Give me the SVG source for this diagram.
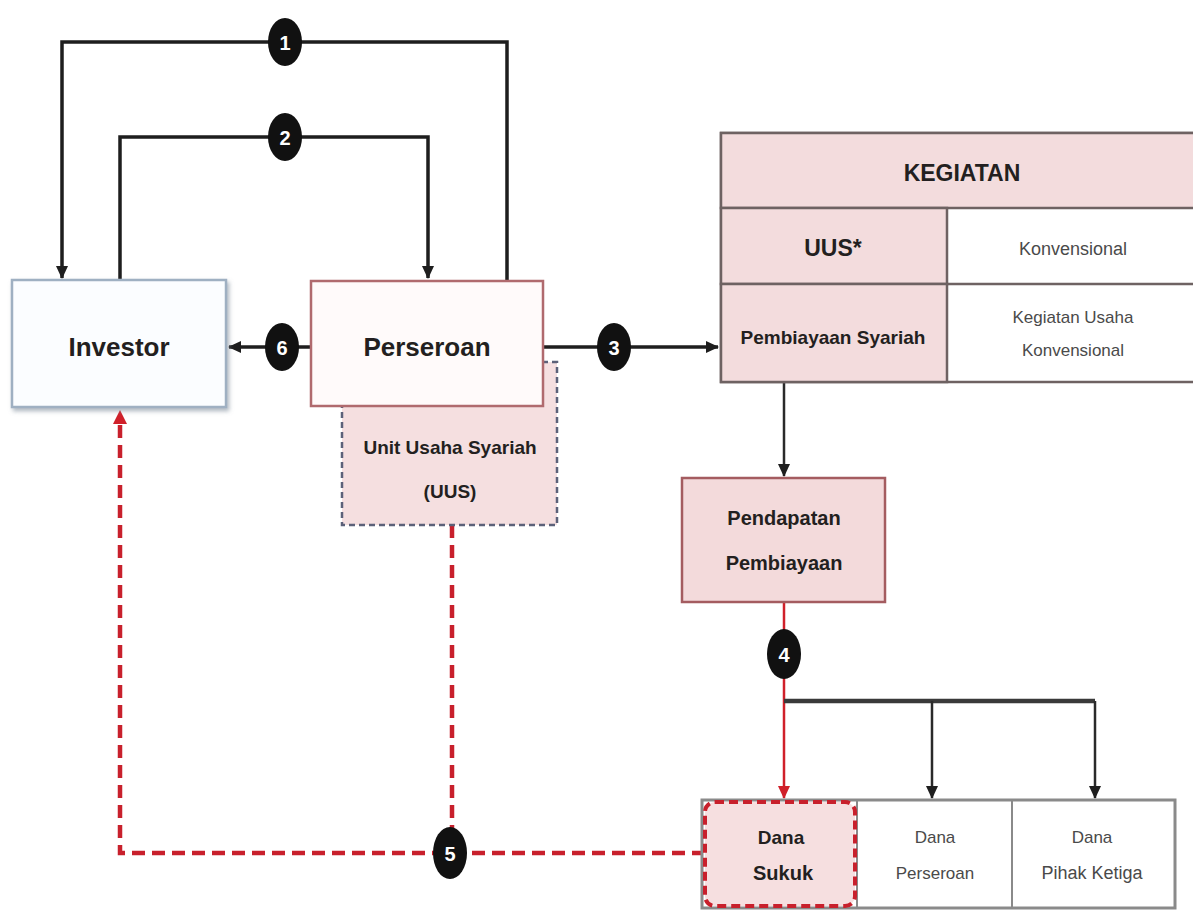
<svg xmlns="http://www.w3.org/2000/svg" width="1193" height="911" viewBox="0 0 1193 911">
<style>
text{font-family:"Liberation Sans",Arial,sans-serif;text-anchor:middle;dominant-baseline:central}
.b{font-weight:bold;fill:#231f20}
.r{fill:#4a4a4a}
.num{font-weight:bold;fill:#fff;font-size:20px}
.conn{fill:none;stroke:#1e1e1e;stroke-width:3.5}
.thin{fill:none;stroke:#2a2a2a;stroke-width:2.5}
.red{fill:none;stroke:#d0202a;stroke-width:2.5}
.reddash{fill:none;stroke:#c8202c;stroke-width:4.5;stroke-dasharray:13 7}
.badge{fill:#111}
</style>
<defs>
<marker id="ab" markerUnits="userSpaceOnUse" markerWidth="14" markerHeight="14" refX="12" refY="7" orient="auto">
<path d="M0,1 L13,7 L0,13 z" fill="#1e1e1e"/>
</marker>
<marker id="ar" markerUnits="userSpaceOnUse" markerWidth="14" markerHeight="14" refX="12" refY="7" orient="auto">
<path d="M0,1 L13,7 L0,13 z" fill="#d0202a"/>
</marker>
<filter id="sh" x="-10%" y="-10%" width="130%" height="130%">
<feDropShadow dx="2" dy="3" stdDeviation="2" flood-color="#7a8898" flood-opacity="0.6"/>
</filter>
</defs>

<g id="connectors">
<path class="conn" d="M507,280 V42 H62 V278" marker-end="url(#ab)"/>
<path class="conn" d="M120,280 V137 H428 V278" marker-end="url(#ab)"/>
<path class="conn" d="M310,347 H229" marker-end="url(#ab)"/>
<path class="conn" d="M543,347 H718" marker-end="url(#ab)"/>
<path class="thin" d="M784,382 V476" marker-end="url(#ab)"/>
<path class="red" d="M784,602 V798" marker-end="url(#ar)"/>
<path class="conn" style="stroke:#3a3a3a;stroke-width:4.5" d="M784,701 H1095"/>
<path class="thin" d="M932,701 V798" marker-end="url(#ab)"/>
<path class="thin" d="M1095,701 V798" marker-end="url(#ab)"/>
<path class="reddash" d="M452,525 V853"/>
<path class="reddash" d="M705,853 H120 V420"/>
<path d="M120,410 L113,424 L127,424 z" fill="#d0202a"/>
</g>

<g id="investor">
<rect x="12" y="280" width="214" height="127" fill="#fbfdff" stroke="#9fb0c2" stroke-width="2.5" filter="url(#sh)"/>
<text class="b" x="119" y="347" font-size="26">Investor</text>
</g>

<g id="uus">
<rect x="342" y="362" width="215" height="163" fill="#f5dfe0" stroke="#5c6179" stroke-width="2.5" stroke-dasharray="6 4"/>
<text class="b" x="450" y="447" font-size="19">Unit Usaha Syariah</text>
<text class="b" x="450" y="491" font-size="19">(UUS)</text>
</g>

<g id="perseroan">
<rect x="311" y="281" width="232" height="125" fill="#fffafa" stroke="#b06a6e" stroke-width="2.5"/>
<text class="b" x="427" y="347" font-size="26">Perseroan</text>
</g>

<g id="kegiatan">
<rect x="721" y="133" width="480" height="249" fill="#ffffff" stroke="#6e6262" stroke-width="2.5"/>
<rect x="721" y="133" width="480" height="75" fill="#f3dcdd" stroke="#6e6262" stroke-width="2.5"/>
<rect x="721" y="208" width="226" height="76" fill="#f3dcdd" stroke="#6e6262" stroke-width="2.5"/>
<rect x="721" y="284" width="226" height="98" fill="#f3dcdd" stroke="#6e6262" stroke-width="2.5"/>
<line x1="947" y1="284" x2="1201" y2="284" stroke="#6e6262" stroke-width="2.5"/>
<text class="b" x="962" y="173" font-size="23">KEGIATAN</text>
<text class="b" x="833" y="248" font-size="23">UUS*</text>
<text class="b" x="833" y="337" font-size="19">Pembiayaan Syariah</text>
<text class="r" x="1073" y="249" font-size="18">Konvensional</text>
<text class="r" x="1073" y="317" font-size="17">Kegiatan Usaha</text>
<text class="r" x="1073" y="350" font-size="17">Konvensional</text>
</g>

<g id="pendapatan">
<rect x="682" y="478" width="203" height="124" fill="#f3dadb" stroke="#a45c60" stroke-width="2.5"/>
<text class="b" x="784" y="518" font-size="20">Pendapatan</text>
<text class="b" x="784" y="563" font-size="20">Pembiayaan</text>
</g>

<g id="dana">
<rect x="702" y="800" width="473" height="108" fill="#ffffff" stroke="#8a8a8a" stroke-width="3"/>
<line x1="1012" y1="800" x2="1012" y2="908" stroke="#8a8a8a" stroke-width="2"/>
<line x1="857" y1="800" x2="857" y2="908" stroke="#8a8a8a" stroke-width="2"/>
<rect x="705" y="802" width="150" height="104" rx="10" fill="#f6dfe0" stroke="#c8202c" stroke-width="4" stroke-dasharray="9 5"/>
<text class="b" x="781" y="837" font-size="19">Dana</text>
<text class="b" x="783" y="873" font-size="20">Sukuk</text>
<text class="r" x="935" y="837" font-size="17">Dana</text>
<text class="r" x="935" y="873" font-size="17">Perseroan</text>
<text class="r" x="1092" y="837" font-size="17">Dana</text>
<text class="r" x="1092" y="873" font-size="18">Pihak Ketiga</text>
</g>

<g id="badges">
<ellipse class="badge" cx="285" cy="42" rx="17" ry="24"/><text class="num" x="285" y="43">1</text>
<ellipse class="badge" cx="285" cy="137" rx="17" ry="24"/><text class="num" x="285" y="138">2</text>
<ellipse class="badge" cx="614" cy="347" rx="17" ry="24"/><text class="num" x="614" y="348">3</text>
<ellipse class="badge" cx="784" cy="654" rx="17" ry="25"/><text class="num" x="784" y="655">4</text>
<ellipse class="badge" cx="450" cy="853" rx="17" ry="26"/><text class="num" x="450" y="854">5</text>
<ellipse class="badge" cx="282" cy="347" rx="17" ry="24"/><text class="num" x="282" y="348">6</text>
</g>
</svg>
